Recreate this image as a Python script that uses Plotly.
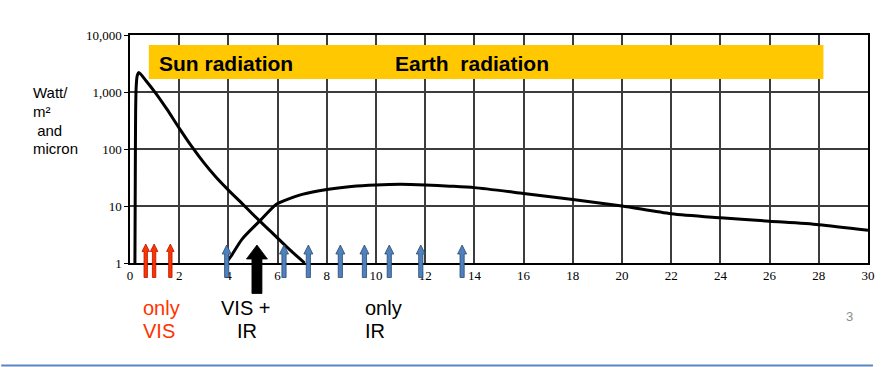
import plotly.graph_objects as go

# ---------------- data ----------------
x_ticks = list(range(0, 31, 2))
y_tickvals = [1, 10, 100, 1000, 10000]
y_ticktext = ["1", "10", "100", "1,000", "10,000"]

sun_x = [0.2, 0.21, 0.22, 0.23, 0.25, 0.29, 0.36, 0.65, 1.05, 1.5, 2.0, 2.5, 3.0, 3.5,
         4.0, 4.5, 5.0, 5.5, 6.0, 6.5, 7.1]
sun_y = [1, 10, 100, 500, 1200, 1900, 2200, 1580, 946, 499, 233, 112, 57.6, 31.9,
         19, 11.7, 7.1, 4.4, 2.74, 1.7, 1.0]

earth_x = [3.9, 4.1, 4.55, 5.3, 5.95, 6.35, 7.0, 8.0, 9.0, 10.0, 11.0, 12.0, 13.0, 14.0, 16.0,
           18.0, 20.0, 22.0, 24.0, 26.0, 28.0, 30.0]
earth_y = [1.0, 1.3, 2.6, 5.6, 10.7, 12.8, 16, 19.5, 22, 23.4, 24, 23.4, 22.3, 21, 16.6,
           13, 10, 7.3, 6.2, 5.4, 4.7, 3.75]

vis_arrows_x = [0.64, 0.98, 1.64]
ir_arrows_x = [3.93, 6.26, 7.25, 8.55, 9.53, 10.54, 11.82, 13.5]
mixed_arrow_x = [5.16]

# ---------------- geometry helpers ----------------
W, H = 885, 367
L, R, T, B = 130, 875, 35, 263


def px(p):
    return (p - L) / (R - L)


def py(p):
    return (B - p) / (B - T)


def arrow_path(shaft_w, head_w, head_h, tip, base):
    s, h = shaft_w / 2, head_w / 2
    n = tip - head_h
    return (f"M {-s},{base} L {-s},{n} L {-h},{n} L 0,{tip} L {h},{n} "
            f"L {s},{n} L {s},{base} Z")


fig = go.Figure()
fig.add_trace(go.Scatter(x=sun_x, y=sun_y, mode="lines",
                         line=dict(color="black", width=3, shape="spline", smoothing=0.6),
                         hoverinfo="skip", showlegend=False))
fig.add_trace(go.Scatter(x=earth_x, y=earth_y, mode="lines",
                         line=dict(color="black", width=3, shape="spline", smoothing=0.7),
                         hoverinfo="skip", showlegend=False))

shapes = []
# yellow banner
shapes.append(dict(type="rect", xref="paper", yref="paper",
                   x0=px(149), x1=px(830), y0=py(79), y1=py(45),
                   fillcolor="#FFC800", line=dict(width=0), layer="above"))

for xs, fill, edge, dims in [
    (vis_arrows_x, "#FF3300", "#B01800", (3.4, 7.5, 7.5, 19, -14.5)),
    (ir_arrows_x, "#4F81BD", "#2A4A70", (4.2, 9, 9, 18, -14.5)),
    (mixed_arrow_x, "black", "black", (10, 21, 14, 18, -30.5)),
]:
    for xv in xs:
        shapes.append(dict(type="path", xref="x", yref="paper",
                           xsizemode="pixel", xanchor=xv,
                           ysizemode="pixel", yanchor=0,
                           path=arrow_path(*dims),
                           fillcolor=fill, line=dict(color=edge, width=0.8),
                           layer="above"))

# bottom slide rule
shapes.append(dict(type="line", xref="paper", yref="paper",
                   x0=px(0), x1=px(880), y0=py(365.5), y1=py(365.5),
                   line=dict(color="#5B86C0", width=2.2)))

SANS = "Liberation Sans, Arial, sans-serif"
SERIF = "Liberation Serif, Times New Roman, serif"

ann = []


def text(t, x, y, size, color="black", bold=False, xanchor="left", yanchor="middle"):
    if bold:
        t = f"<b>{t}</b>"
    ann.append(dict(text=t, x=px(x), y=py(y), xref="paper", yref="paper",
                    xanchor=xanchor, yanchor=yanchor, showarrow=False,
                    font=dict(family=SANS, size=size, color=color)))


text("Sun radiation", 157, 64, 21, bold=True)
text("Earth\u00a0\u00a0radiation", 395, 64, 21, bold=True)
text("Watt/", 30, 92, 15)
text("m²", 30, 111.5, 15)
text("\u00a0and", 30, 130, 15)
text("micron", 30, 148.5, 15)
text("only", 141, 308, 20, color="#FF3300")
text("VIS", 141, 331, 20, color="#FF3300")
text("VIS +", 220, 308, 20)
text("IR", 236, 331, 20)
text("only", 365, 308, 20)
text("IR", 365, 331, 20)
text("3", 856, 316, 13, color="#8C8C8C", xanchor="center")

fig.update_layout(
    width=W, height=H,
    margin=dict(l=L, r=W - R, t=T, b=H - B, pad=0),
    paper_bgcolor="white", plot_bgcolor="white",
    shapes=shapes, annotations=ann,
    xaxis=dict(range=[0, 30], tickvals=x_ticks, showgrid=True, gridcolor="#3C3C3C",
               gridwidth=1.5, showline=True, linecolor="black", linewidth=1.5,
               mirror=True, ticks="", zeroline=False,
               tickfont=dict(family=SERIF, size=13, color="black")),
    yaxis=dict(type="log", range=[0, 4], tickvals=y_tickvals, ticktext=y_ticktext,
               showgrid=True, gridcolor="#3C3C3C", gridwidth=1.5,
               showline=True, linecolor="black", linewidth=1.5, mirror=True,
               ticks="outside", ticklen=4, tickcolor="black", zeroline=False,
               tickfont=dict(family=SERIF, size=13, color="black")),
)

fig.write_html("out.html", config={"displayModeBar": False},
               post_script="document.body.style.margin='0';document.body.style.overflow='hidden';")
